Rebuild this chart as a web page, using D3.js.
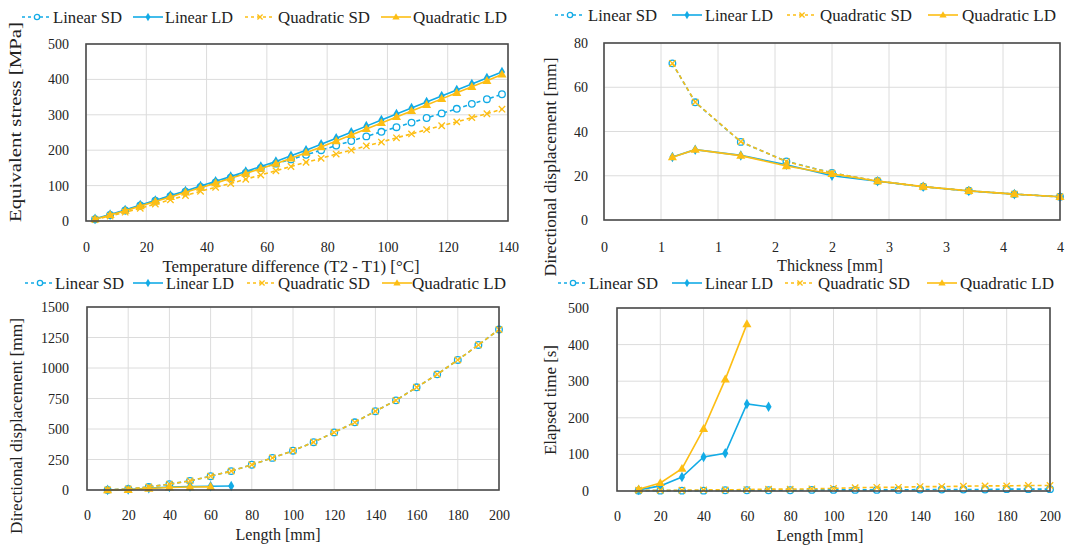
<!DOCTYPE html>
<html><head><meta charset="utf-8">
<script src="https://cdn.jsdelivr.net/npm/d3@7"></script>
<style>
html,body{margin:0;padding:0;background:#fff;}
svg text{font-family:"Liberation Serif","Times New Roman",serif;fill:#222;}
</style></head>
<body><svg id="c" width="1066" height="545"></svg>
<script>
// ---------- DATA ----------
const seriesNames = ["Linear SD", "Linear LD", "Quadratic SD", "Quadratic LD"];

// Panel 1: Equivalent stress vs temperature difference
const tempDiff = [3,8,13,18,23,28,33,38,43,48,53,58,63,68,73,78,83,88,93,98,103,108,113,118,123,128,133,138];
const stressLinSD  = [5,17,30,44,57,70,83,96,109,122,136,150,162,174,187,200,213,226,239,252,265,278,291,304,317,331,344,358];
const stressLinLD  = [6,18,31,45,58,72,85,99,112,126,140,154,168,184,200,217,234,251,268,285,302,319,336,353,370,387,404,421];
const stressQuadSD = [4,14,25,36,48,60,72,84,95,106,118,130,142,154,166,177,189,200,212,223,235,246,258,269,280,292,303,316];
const stressQuadLD = [5,17,29,42,55,68,81,94,107,121,134,148,162,177,193,209,226,243,260,277,294,311,328,345,362,379,396,414];
const tempTicks = [0,20,40,60,80,100,120,140];
const stressTicks = [0,100,200,300,400,500];

// Panel 2: Directional displacement vs thickness
const thickness = [0.6,0.8,1.2,1.6,2.0,2.4,2.8,3.2,3.6,4.0];
const thickLinSD  = [70.8,53.2,35.3,26.5,21.3,17.6,15.1,13.2,11.7,10.5];
const thickLinLD  = [28.5,31.8,29.2,25.0,20.0,17.5,15.0,13.1,11.7,10.5];
const thickQuadSD = [70.8,53.3,35.4,26.4,21.2,17.6,15.0,13.1,11.7,10.5];
const thickQuadLD = [28.4,31.8,29.1,24.4,20.8,17.6,15.1,13.2,11.7,10.5];
const thickTicks = [0,0.5,1,1.5,2,2.5,3,3.5,4];
const thickTickLabels = ["0","1","1","2","2","3","3","4","4"];
const thickDispTicks = [0,20,40,60,80];

// Panel 3: Directional displacement vs length
const lengthSD = [10,20,30,40,50,60,70,80,90,100,110,120,130,140,150,160,170,180,190,200];
const lenDispLinSD  = [1,8,25,48,75,113,155,207,263,322,392,472,555,646,735,842,948,1066,1189,1315];
const lenDispQuadSD = [1,8,25,48,75,113,155,207,263,322,392,472,555,646,735,842,948,1066,1189,1315];
const lengthLinLD = [10,20,30,40,50,60,70];
const lenDispLinLD  = [1,4,14,24,28,31,33];
const lengthQuadLD = [10,20,30,40,50,60];
const lenDispQuadLD = [0,2,12,21,24,26];
const lengthTicks = [0,20,40,60,80,100,120,140,160,180,200];
const lenDispTicks = [0,250,500,750,1000,1250,1500];

// Panel 4: Elapsed time vs length
const timeLinSD  = [1,1,1,1,2,2,2,2,3,3,3,3,3,4,4,4,4,5,5,5];
const timeQuadSD = [2,2,2,3,3,4,5,5,6,7,9,10,10,12,12,13,14,14,15,15];
const timeLinLD  = [3,14,38,93,103,238,230];
const timeQuadLD = [5,22,61,170,305,456];
const timeTicks = [0,100,200,300,400,500];

// ---------- STYLE ----------
const BLUE = "#12abe6", GOLD = "#fdbe14";
const styles = [
  {color: BLUE, dash: "4,3", marker: "circle"},
  {color: BLUE, dash: null,  marker: "diamond"},
  {color: GOLD, dash: "4,3", marker: "x"},
  {color: GOLD, dash: null,  marker: "triangle"}
];

const svg = d3.select("#c");

function drawMarker(g, type, x, y, color, small) {
  const k = small ? 0.8 : 1;
  if (type === "circle") {
    g.append("circle").attr("cx", x).attr("cy", y).attr("r", 3.3 * k)
      .attr("fill", "#fff").attr("stroke", color).attr("stroke-width", 1.3);
  } else if (type === "diamond") {
    g.append("path").attr("d", d3.symbol(d3.symbolDiamond, 32 * k * k)())
      .attr("transform", `translate(${x},${y})`).attr("fill", color);
  } else if (type === "triangle") {
    g.append("path").attr("d", d3.symbol(d3.symbolTriangle, 36 * k * k)())
      .attr("transform", `translate(${x},${y + 0.5})`).attr("fill", color);
  } else if (type === "x") {
    const s = 3.2 * k;
    g.append("path").attr("d", `M${x-s},${y-s}L${x+s},${y+s}M${x-s},${y+s}L${x+s},${y-s}`)
      .attr("stroke", color).attr("stroke-width", 1.3).attr("fill", "none");
  }
}

function panel(cfg) {
  const g = svg.append("g");
  const x = d3.scaleLinear().domain(cfg.xDomain).range([cfg.left, cfg.right]);
  const y = d3.scaleLinear().domain(cfg.yDomain).range([cfg.bottom, cfg.top]);

  // grid
  const grid = g.append("g").attr("stroke", "#dcdcdc").attr("stroke-width", 1);
  cfg.xTicks.forEach(v => grid.append("line").attr("x1", x(v)).attr("x2", x(v)).attr("y1", cfg.top).attr("y2", cfg.bottom));
  cfg.yTicks.forEach(v => grid.append("line").attr("x1", cfg.left).attr("x2", cfg.right).attr("y1", y(v)).attr("y2", y(v)));

  // axes via d3 axis (labels only)
  const xAxis = d3.axisBottom(x).tickValues(cfg.xTicks).tickSize(0)
    .tickFormat((d, i) => cfg.xTickLabels ? cfg.xTickLabels[i] : d3.format("d")(d));
  const xa = g.append("g").attr("transform", `translate(0,${cfg.xLabelY})`).call(xAxis);
  xa.select(".domain").remove();
  xa.selectAll("text").attr("dy", null).attr("y", 0).attr("dominant-baseline", "central")
    .style("font-size", "14px").style("font-family", "Liberation Serif").attr("fill", "#222");

  const yAxis = d3.axisLeft(y).tickValues(cfg.yTicks).tickSize(0).tickFormat(d3.format("d"));
  const ya = g.append("g").attr("transform", `translate(${cfg.yLabelX},0)`).call(yAxis);
  ya.select(".domain").remove();
  ya.selectAll("text").attr("dy", null).attr("x", 0).attr("dominant-baseline", "central")
    .style("font-size", "14px").style("font-family", "Liberation Serif").attr("fill", "#222");

  // series
  const line = d3.line().x(d => x(d[0])).y(d => y(d[1]));
  cfg.series.forEach((s, i) => {
    const st = styles[i];
    const pts = s.xs.map((xv, j) => [xv, s.ys[j]]);
    g.append("path").attr("d", line(pts)).attr("fill", "none")
      .attr("stroke", st.color).attr("stroke-width", 1.6)
      .attr("stroke-dasharray", st.dash);
    const mg = g.append("g");
    pts.forEach(p => drawMarker(mg, st.marker, x(p[0]), y(p[1]), st.color, false));
  });

  // frame
  g.append("rect").attr("x", cfg.left).attr("y", cfg.top)
    .attr("width", cfg.right - cfg.left).attr("height", cfg.bottom - cfg.top)
    .attr("fill", "none").attr("stroke", "#4a4a4a").attr("stroke-width", 1.6);

  // titles
  g.append("text").attr("x", cfg.xTitle[0]).attr("y", cfg.xTitle[1])
    .attr("text-anchor", "middle").attr("dominant-baseline", "central")
    .style("font-size", "16px").attr("textLength", cfg.xTitle[2]).attr("lengthAdjust", "spacingAndGlyphs")
    .text(cfg.xLabel);
  g.append("text").attr("transform", `translate(${cfg.yTitle[0]},${cfg.yTitle[1]}) rotate(-90)`)
    .attr("text-anchor", "middle").attr("dominant-baseline", "central")
    .style("font-size", "16px").attr("textLength", cfg.yTitle[2]).attr("lengthAdjust", "spacingAndGlyphs")
    .text(cfg.yLabel);

  // legend
  const lg = g.append("g");
  const lens = [69, 68, 92, 94];
  cfg.legend.items.forEach((it, i) => {
    const st = styles[i];
    const ly = cfg.legend.y;
    lg.append("line").attr("x1", it[0]).attr("x2", it[0] + 30).attr("y1", ly).attr("y2", ly)
      .attr("stroke", st.color).attr("stroke-width", 1.6).attr("stroke-dasharray", st.dash ? "3,3" : null);
    drawMarker(lg, st.marker, it[0] + 15, ly, st.color, true);
    lg.append("text").attr("x", it[1]).attr("y", ly).attr("dominant-baseline", "central")
      .style("font-size", "17px").attr("textLength", lens[i]).attr("lengthAdjust", "spacingAndGlyphs")
      .text(seriesNames[i]);
  });
}

panel({
  left: 86, right: 508, top: 44, bottom: 221,
  xDomain: [0, 140], yDomain: [0, 500], xTicks: tempTicks, yTicks: stressTicks,
  xLabelY: 247, yLabelX: 69,
  xLabel: "Temperature difference (T2 - T1) [°C]", yLabel: "Equivalent stress [MPa]",
  xTitle: [291, 266, 257], yTitle: [15, 122, 200],
  legend: {y: 17, items: [[22, 53], [133, 165], [245, 278], [381, 413]]},
  series: [
    {xs: tempDiff, ys: stressLinSD}, {xs: tempDiff, ys: stressLinLD},
    {xs: tempDiff, ys: stressQuadSD}, {xs: tempDiff, ys: stressQuadLD}
  ]
});

panel({
  left: 604, right: 1060, top: 43, bottom: 220,
  xDomain: [0, 4], yDomain: [0, 80], xTicks: thickTicks, xTickLabels: thickTickLabels, yTicks: thickDispTicks,
  xLabelY: 247, yLabelX: 588,
  xLabel: "Thickness [mm]", yLabel: "Directional displacement [mm]",
  xTitle: [830, 265, 106], yTitle: [550, 167, 219],
  legend: {y: 15, items: [[555, 588], [672, 705], [787, 820], [928, 962]]},
  series: [
    {xs: thickness, ys: thickLinSD}, {xs: thickness, ys: thickLinLD},
    {xs: thickness, ys: thickQuadSD}, {xs: thickness, ys: thickQuadLD}
  ]
});

panel({
  left: 87, right: 499, top: 307, bottom: 490,
  xDomain: [0, 200], yDomain: [0, 1500], xTicks: lengthTicks, yTicks: lenDispTicks,
  xLabelY: 515, yLabelX: 69,
  xLabel: "Length [mm]", yLabel: "Directional displacement [mm]",
  xTitle: [278, 534, 85], yTitle: [16, 426, 216],
  legend: {y: 283, items: [[25, 55], [133, 166], [247, 278], [382, 412]]},
  series: [
    {xs: lengthSD, ys: lenDispLinSD}, {xs: lengthLinLD, ys: lenDispLinLD},
    {xs: lengthSD, ys: lenDispQuadSD}, {xs: lengthQuadLD, ys: lenDispQuadLD}
  ]
});

panel({
  left: 617, right: 1050, top: 308, bottom: 491,
  xDomain: [0, 200], yDomain: [0, 500], xTicks: lengthTicks, yTicks: timeTicks,
  xLabelY: 516, yLabelX: 589,
  xLabel: "Length [mm]", yLabel: "Elapsed time [s]",
  xTitle: [820, 535, 87], yTitle: [550, 400, 110],
  legend: {y: 283, items: [[558, 589], [672, 705], [785, 818], [927, 960]]},
  series: [
    {xs: lengthSD, ys: timeLinSD}, {xs: lengthLinLD, ys: timeLinLD},
    {xs: lengthSD, ys: timeQuadSD}, {xs: lengthQuadLD, ys: timeQuadLD}
  ]
});
</script></body></html>
